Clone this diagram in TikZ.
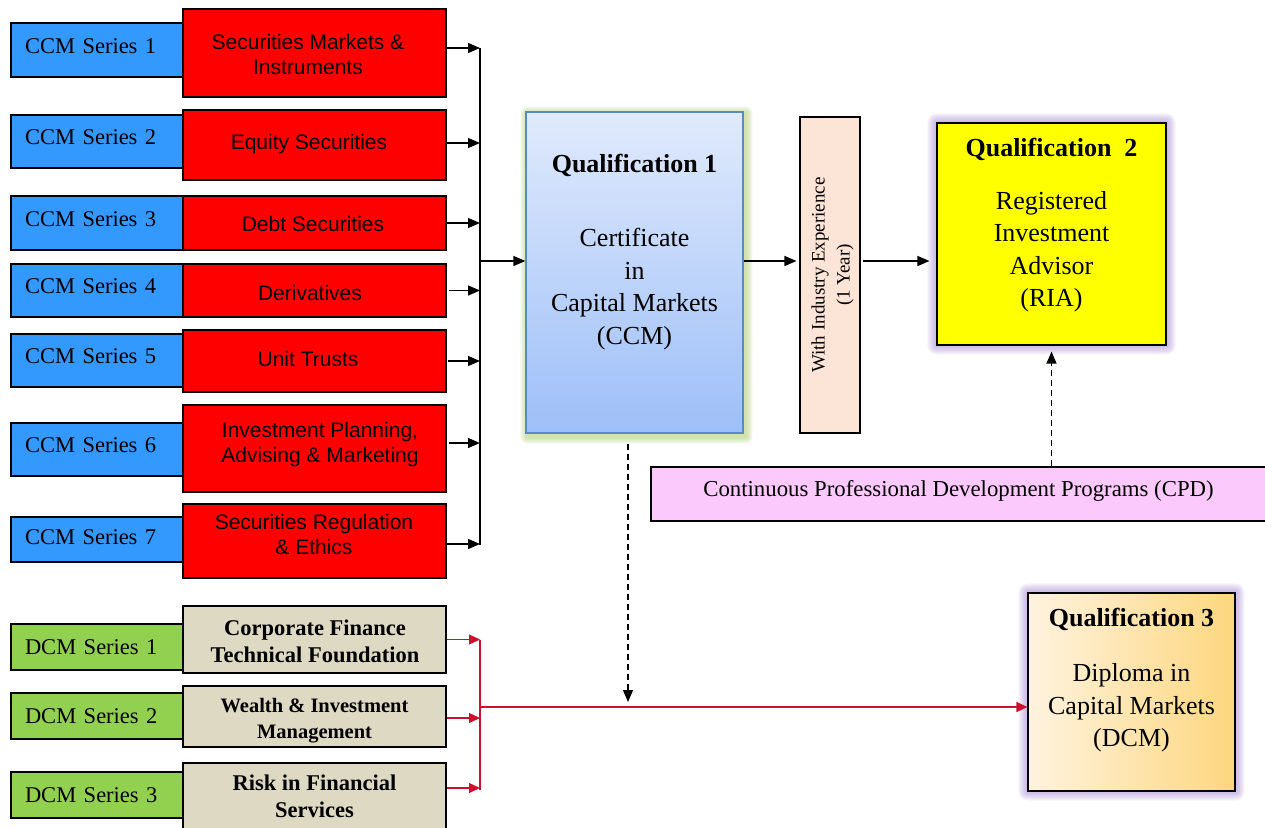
\documentclass[tikz,border=0pt]{standalone}
\usepackage{fontspec}
\setmainfont{Liberation Serif}
\newfontfamily\arialf{Liberation Sans}
\usetikzlibrary{arrows.meta,backgrounds}
\definecolor{cblue}{HTML}{3399FF}
\definecolor{cred}{HTML}{FF0000}
\definecolor{cgreen}{HTML}{92D050}
\definecolor{cbeige}{HTML}{DDD9C3}
\definecolor{cpeach}{HTML}{FCE4D6}
\definecolor{cpink}{HTML}{FCC9FC}
\definecolor{cyellow}{HTML}{FFFF00}
\definecolor{qoneborder}{HTML}{5A8AC6}
\definecolor{qonetop}{HTML}{E0EAFC}
\definecolor{qonebot}{HTML}{9DBFF8}
\definecolor{qthreeleft}{HTML}{FFF3DF}
\definecolor{qthreeright}{HTML}{FDD77E}
\definecolor{glowpurple}{HTML}{A58CD2}
\definecolor{glowgreen}{HTML}{B4CC78}
\definecolor{linkred}{HTML}{CC1030}
\begin{document}
\begin{tikzpicture}[x=1pt,y=-1pt,
  box/.style={draw=black, line width=1.1pt, inner sep=0pt, align=center},
  bluebox/.style={box, fill=cblue, minimum width=172pt, text width=144pt, align=left, text depth=8pt, font=\fontsize{22.5}{27}\selectfont},
  greenbox/.style={box, fill=cgreen, minimum width=172pt, minimum height=46pt, text width=144pt, align=left, font=\fontsize{22.5}{27}\selectfont},
  redbox/.style={box, fill=cred, minimum width=263pt},
  redtext/.style={align=center, inner sep=0pt, font=\arialf\fontsize{21}{25}\selectfont},
  beigebox/.style={box, fill=cbeige, minimum width=263pt},
  beigetext/.style={align=center, inner sep=0pt, font=\bfseries\fontsize{22.5}{27}\selectfont},
  qtext/.style={align=center, font=\fontsize{26}{32.5}\selectfont, inner sep=0pt},
  arr/.style={-{Triangle[length=12pt,width=10pt]}, line width=1.3pt, black},
  plainline/.style={line width=1.3pt, black},
  rarr/.style={-{Triangle[length=11pt,width=10pt]}, line width=1.2pt, linkred},
  rline/.style={line width=1.2pt, linkred},
  dasharr/.style={-{Triangle[length=12pt,width=10pt]}, line width=1.2pt, black, dash pattern=on 6pt off 4pt}
]
\useasboundingbox (0,0) rectangle (1265,827);

% CCM series
\node[bluebox, minimum height=54pt] (b1) at (97,50) {CCM Series 1};
\node[bluebox, minimum height=53pt] (b2) at (97,141.5) {CCM Series 2};
\node[bluebox, minimum height=54pt] (b3) at (97,223) {CCM Series 3};
\node[bluebox, minimum height=53pt] (b4) at (97,290.5) {CCM Series 4};
\node[bluebox, minimum height=53pt] (b5) at (97,360.5) {CCM Series 5};
\node[bluebox, minimum height=53pt] (b6) at (97,449.5) {CCM Series 6};
\node[bluebox, minimum height=45pt, text depth=4pt] (b7) at (97,539.5) {CCM Series 7};

\node[redbox, minimum height=88pt] (r1) at (314.5,53) {};
\node[redbox, minimum height=70pt] (r2) at (314.5,145) {};
\node[redbox, minimum height=54pt] (r3) at (314.5,223) {};
\node[redbox, minimum height=53pt] (r4) at (314.5,290.5) {};
\node[redbox, minimum height=62pt] (r5) at (314.5,361) {};
\node[redbox, minimum height=87pt] (r6) at (314.5,448.5) {};
\node[redbox, minimum height=74pt] (r7) at (314.5,541) {};
\node[redtext] (r1t) at (308,54) {Securities Markets \&\\Instruments};
\node[redtext] (r2t) at (309,144) {Equity Securities};
\node[redtext] (r3t) at (313,224) {Debt Securities};
\node[redtext] (r4t) at (310,293) {Derivatives};
\node[redtext] (r5t) at (308,359) {Unit Trusts};
\node[redtext] (r6t) at (320,444.5) {Investment Planning,\\Advising \& Marketing};
\node[redtext] (r7t) at (314,534.5) {Securities Regulation\\\& Ethics};

% DCM series
\node[greenbox] (g1) at (97,647) {DCM Series 1};
\node[greenbox] (g2) at (97,716) {DCM Series 2};
\node[greenbox] (g3) at (97,795) {DCM Series 3};

\node[beigebox, minimum height=67pt] (t1) at (314.5,639.5) {};
\node[beigebox, minimum height=61pt] (t2) at (314.5,716.5) {};
\node[beigebox, minimum height=67pt] (t3) at (314.5,796.5) {};
\node[beigetext] (t1t) at (315,641.5) {Corporate Finance\\Technical Foundation};
\node[beigetext, font=\bfseries\fontsize{20.5}{26}\selectfont] (t2t) at (314.5,721) {Wealth \& Investment\\Management};
\node[beigetext] (t3t) at (314.5,796.5) {Risk in Financial\\Services};

% Qualification 1
\node[box, draw=qoneborder, line width=1.3pt, top color=qonetop, bottom color=qonebot, minimum width=217pt, minimum height=321pt] (q1) at (634.5,272.5) {};
\node[qtext] (q1t) at (634.5,252) {\textbf{Qualification 1}\\[42pt]Certificate\\in\\Capital Markets\\(CCM)};

% Industry experience
\node[box, fill=cpeach, minimum width=60pt, minimum height=316pt] (v) at (830,275) {};
\node[rotate=90, align=center, inner sep=0pt, font=\fontsize{19}{25}\selectfont] (vt) at (832.5,275) {With Industry Experience\\(1 Year)};

% Qualification 2
\node[box, fill=cyellow, minimum width=229pt, minimum height=222pt] (q2) at (1051.5,234) {};
\node[qtext] (q2t) at (1051.5,225) {\textbf{Qualification\ \ 2}\\[20.5pt]Registered\\Investment\\Advisor\\(RIA)};

% CPD
\node[box, fill=cpink, minimum width=619pt, minimum height=54pt] (cpd) at (960.5,494) {};
\node[inner sep=0pt, font=\fontsize{22.8}{27}\selectfont] (cpdt) at (958.5,491) {Continuous Professional Development Programs (CPD)};

% Qualification 3
\node[box, left color=qthreeleft, right color=qthreeright, minimum width=207pt, minimum height=198pt] (q3) at (1131.5,692) {};
\node[qtext] (q3t) at (1131.5,680.5) {\textbf{Qualification 3}\\[22.5pt]Diploma in\\Capital Markets\\(DCM)};

% glows
\begin{scope}[on background layer]
  \foreach \i in {1,...,9}
    \fill[glowpurple, opacity=0.09, rounded corners=\i pt] ([shift={(-\i,-\i)}]q2.north west) rectangle ([shift={(\i,\i)}]q2.south east);
  \foreach \i in {1,...,9}
    \fill[glowpurple, opacity=0.09, rounded corners=\i pt] ([shift={(-\i,-\i)}]q3.north west) rectangle ([shift={(\i,\i)}]q3.south east);
  \foreach \i in {1,...,7}
    \fill[glowgreen, opacity=0.12, rounded corners=\i pt] ([shift={(-\i+2,-\i+2)}]q1.north west) rectangle ([shift={(\i+2,\i+3)}]q1.south east);
\end{scope}

% CCM connectors
\coordinate (bus) at (480,0);
\draw[arr] ([yshift=5pt]r1.east) -- ([yshift=5pt]r1.east -| bus);
\draw[arr] ([yshift=2pt]r2.east) -- ([yshift=2pt]r2.east -| bus);
\draw[arr] (r3.east) -- (r3.east -| bus);
\draw[arr] ([xshift=2pt]r4.east) -- (r4.east -| bus);
\draw[arr] ([xshift=1pt]r5.east) -- (r5.east -| bus);
\draw[arr] ([xshift=2pt,yshift=5.5pt]r6.east) -- ([yshift=5.5pt]r6.east -| bus);
\draw[arr] ([yshift=-3pt]r7.east) -- ([yshift=-3pt]r7.east -| bus);
\draw[plainline] ([yshift=5pt]r1.east -| bus) -- ([yshift=-4pt]r7.east -| bus);
\draw[arr] ([yshift=11.5pt]q1.west -| bus) -- ([yshift=11.5pt]q1.west);

% to Qualification 2
\draw[arr, shorten >=3pt] ([yshift=11.5pt]q1.east) -- ([yshift=11.5pt]q1.east -| v.west);
\draw[arr, shorten <=2pt, shorten >=7pt] ([yshift=14pt]v.east) -- ([yshift=14pt]v.east -| q2.west);
\draw[dasharr, shorten >=6pt] (q2.south |- cpd.north) -- (q2.south);

% DCM connectors
\coordinate (rbus) at (480,0);
\coordinate (redj) at (480,707);
\draw[rarr] (t1.east) -- (t1.east -| rbus);
\draw[rarr] ([yshift=-1.5pt]t2.east) -- ([yshift=-1.5pt]t2.east -| rbus);
\draw[rarr] ([yshift=8.5pt]t3.east) -- ([yshift=8.5pt]t3.east -| rbus);
\draw[rline] (t1.east -| rbus) -- ([yshift=6.5pt]t3.east -| rbus);
\draw[rarr] (redj) -- (redj -| q3.west);
\draw[dasharr, shorten <=10pt, shorten >=5pt] ([xshift=-6.5pt]q1.south) -- ([xshift=-6.5pt]q1.south |- redj);
\end{tikzpicture}
\end{document}
